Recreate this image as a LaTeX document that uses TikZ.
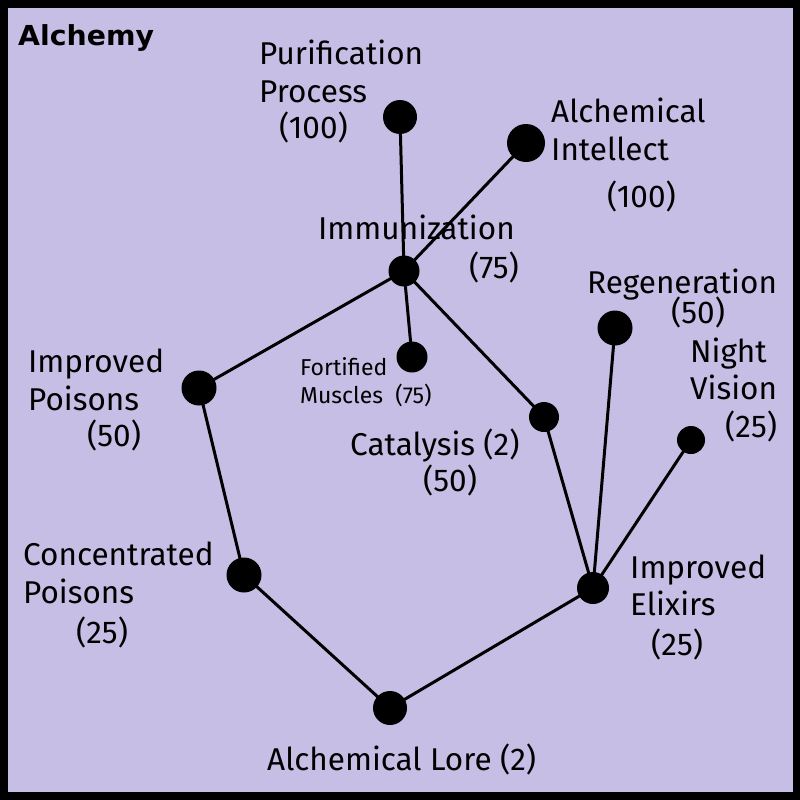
\documentclass[tikz,border=0pt]{standalone}
\usepackage{fontspec}
\setmainfont{Fira Sans}
\newfontfamily\titlefont{DejaVu Sans}
\definecolor{bgc}{RGB}{198,190,228}
\begin{document}
\begin{tikzpicture}[x=1pt,y=-1pt,
  dot/.style={circle,fill=black,inner sep=0pt,minimum size=#1},
  edge/.style={line width=3pt,black},
  lbl/.style={anchor=base west,inner sep=0pt,font=\fontsize{31.5}{31.5}\selectfont},
  slbl/.style={anchor=base west,inner sep=0pt,font=\fontsize{23}{23}\selectfont}]
\useasboundingbox (0,0) rectangle (800,800);
\fill[black] (0,0) rectangle (800,800);
\fill[bgc] (8,8) rectangle (793,792);
% circles positions
\coordinate (pP) at (400,117);
\coordinate (pA) at (526,143);
\coordinate (pI) at (404,271);
\coordinate (pR) at (615,328);
\coordinate (pF) at (412,357);
\coordinate (pIP) at (199,388);
\coordinate (pC) at (544,417);
\coordinate (pN) at (691,440);
\coordinate (pCP) at (244,575);
\coordinate (pE) at (593,588);
\coordinate (pL) at (390,708);
% edges
\draw[edge] (pP) -- (pI);
\draw[edge] (pA) -- (pI);
\draw[edge] (pI) -- (pF);
\draw[edge] (pI) -- (pIP);
\draw[edge] (pI) -- (pC);
\draw[edge] (pC) -- (pE);
\draw[edge] (pR) -- (pE);
\draw[edge] (pN) -- (pE);
\draw[edge] (pIP) -- (pCP);
\draw[edge] (pCP) -- (pL);
\draw[edge] (pL) -- (pE);
% dots
\node[dot=34pt] (P) at (pP) {};
\node[dot=38pt] (A) at (pA) {};
\node[dot=31pt] (I) at (pI) {};
\node[dot=35pt] (R) at (pR) {};
\node[dot=31pt] (F) at (pF) {};
\node[dot=35pt] (IP) at (pIP) {};
\node[dot=30pt] (C) at (pC) {};
\node[dot=28pt] (N) at (pN) {};
\node[dot=35pt] (CP) at (pCP) {};
\node[dot=32pt] (E) at (pE) {};
\node[dot=34pt] (L) at (pL) {};
% labels
\node[anchor=base west,inner sep=0pt,xscale=1.03,font=\fontsize{27.5}{27.5}\selectfont\titlefont\bfseries] (title) at (18,46) {Alchemy};
\node[lbl] (tP1) at (259,65) {Purification};
\node[lbl] (tP2) at (259,102) {Process};
\node[lbl] (tP3) at (279,138) {(100)};
\node[lbl] (tA1) at (551,122) {Alchemical};
\node[lbl] (tA2) at (551,160) {Intellect};
\node[lbl] (tA3) at (607,207) {(100)};
\node[lbl] (tI1) at (318,239) {Immunization};
\node[lbl] (tI2) at (469,278) {(75)};
\node[lbl] (tR1) at (587,293) {Regeneration};
\node[lbl] (tR2) at (671,323) {(50)};
\node[lbl] (tN1) at (690,362) {Night};
\node[lbl] (tN2) at (690,399) {Vision};
\node[lbl] (tN3) at (725,437) {(25)};
\node[lbl] (tIP1) at (28,372) {Improved};
\node[lbl] (tIP2) at (28,410) {Poisons};
\node[lbl] (tIP3) at (87,446) {(50)};
\node[slbl] (tF1) at (300,375) {Fortified};
\node[slbl] (tF2) at (300,403) {Muscles\ \ (75)};
\node[lbl] (tC1) at (350,455) {Catalysis (2)};
\node[lbl] (tC2) at (423,491) {(50)};
\node[lbl] (tCP1) at (23,565) {Concentrated};
\node[lbl] (tCP2) at (23,603) {Poisons};
\node[lbl] (tCP3) at (76,643) {(25)};
\node[lbl] (tE1) at (630,578) {Improved};
\node[lbl] (tE2) at (630,615) {Elixirs};
\node[lbl] (tE3) at (651,655) {(25)};
\node[lbl] (tL) at (267,770) {Alchemical Lore (2)};
\end{tikzpicture}
\end{document}
